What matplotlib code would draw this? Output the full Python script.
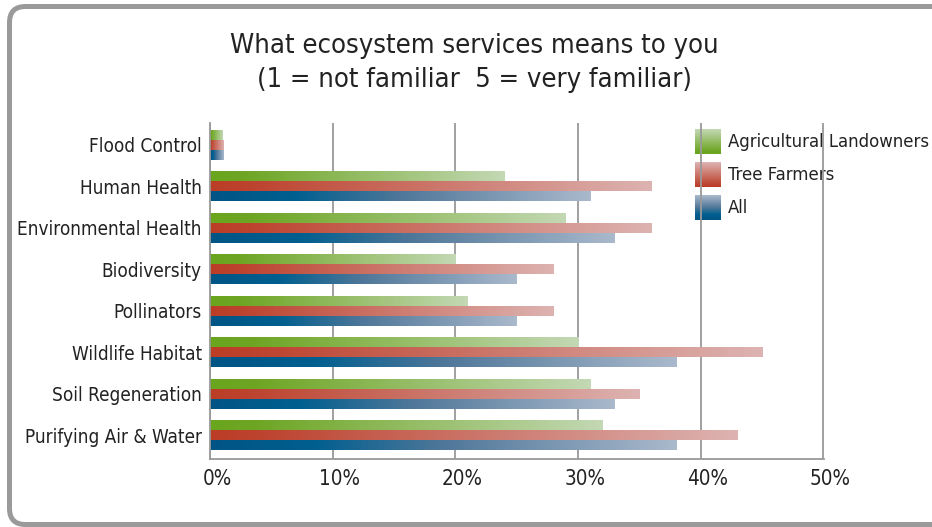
import numpy as np
import matplotlib
matplotlib.use("Agg")
import matplotlib.pyplot as plt
from matplotlib import font_manager
from matplotlib.colors import LinearSegmentedColormap
from matplotlib.patches import FancyBboxPatch
from matplotlib.transforms import ScaledTranslation

categories = ["Flood Control", "Human Health", "Environmental Health", "Biodiversity",
              "Pollinators", "Wildlife Habitat", "Soil Regeneration", "Purifying Air & Water"]
series_names = ["Agricultural Landowners", "Tree Farmers", "All"]
ag_landowners = [1.0, 24, 29, 20, 21, 30, 31, 32]
tree_farmers = [1.1, 36, 36, 28, 28, 45, 35, 43]
all_resp = [1.1, 31, 33, 25, 25, 38, 33, 38]
x_ticks = [0, 10, 20, 30, 40, 50]
x_labels = ["0%", "10%", "20%", "30%", "40%", "50%"]

names = {f.name for f in font_manager.fontManager.ttflist}
font = "Liberation Sans Narrow" if "Liberation Sans Narrow" in names else "DejaVu Sans"
plt.rcParams["font.family"] = [font, "DejaVu Sans"]
plt.rcParams["font.stretch"] = "condensed"
text_col = "#222222"
grid_col = "#999999"

# gradient colour maps (dark at the bar start, pale at its end)
cmaps = [
    LinearSegmentedColormap.from_list("g", [(0, "#6aa51e"), (0.12, "#6ea624"), (1, "#c3d8b4")]),
    LinearSegmentedColormap.from_list("r", [(0, "#bb3d26"), (0.1, "#bd4430"), (1, "#ddb3b1")]),
    LinearSegmentedColormap.from_list("b", [(0, "#005585"), (0.22, "#005f8f"), (0.5, "#4f7799"), (1, "#aab9cc")]),
]

W, H = 932, 527
fig = plt.figure(figsize=(W / 100, H / 100), dpi=100)
ax = fig.add_axes([210 / W, (H - 459) / H, 614 / W, 336 / H])

# rounded frame round the whole chart, open on the right edge
frame = FancyBboxPatch((0.095, 0.025), 9.9, 5.18, boxstyle="round,pad=0,rounding_size=0.16",
                       transform=fig.dpi_scale_trans, facecolor="white", edgecolor="#9a9a9a",
                       linewidth=3.6, clip_on=False, zorder=-10)
fig.patches.append(frame)

n = len(categories)
y = np.arange(n)[::-1]
h = 0.24
grad = np.linspace(0, 1, 256).reshape(1, -1)
for k, vals in enumerate([ag_landowners, tree_farmers, all_resp]):
    bars = ax.barh(y + (1 - k) * h, vals, height=h, color="none", linewidth=0)
    for b in bars:
        x0, y0, w, hh = b.get_x(), b.get_y(), b.get_width(), b.get_height()
        ax.imshow(grad, extent=[x0, x0 + w, y0, y0 + hh], cmap=cmaps[k],
                  aspect="auto", interpolation="bilinear", zorder=2)

ax.set_yticks(y)
ax.set_yticklabels(categories, fontsize=13.6, color=text_col)
ax.set_xticks(x_ticks)
ax.set_xticklabels(x_labels, fontsize=14.8, color=text_col)
ax.tick_params(length=0)
ax.tick_params(axis="y", pad=6)
ax.tick_params(axis="x", pad=7)
for lab in ax.get_xticklabels():
    lab.set_transform(lab.get_transform() + ScaledTranslation(7 / 100, 0, fig.dpi_scale_trans))

ax.set_axisbelow(True)
ax.grid(axis="x", color=grid_col, linewidth=1.3)
for s in ["top", "right"]:
    ax.spines[s].set_visible(False)
for s in ["left", "bottom"]:
    ax.spines[s].set_color(grid_col)
    ax.spines[s].set_linewidth(1.3)

# legend drawn inside the plot, behind the 50% grid line
vgrad = np.linspace(1, 0, 64).reshape(-1, 1)
leg_y = [0.908, 0.810, 0.711]
for k, name in enumerate(series_names):
    ax.imshow(vgrad, extent=[0.790, 0.831, leg_y[k], leg_y[k] + 0.074], transform=ax.transAxes,
              cmap=cmaps[k], aspect="auto", interpolation="bilinear", clip_on=False, zorder=0.3)
    ax.text(0.844, leg_y[k] + 0.035, name, transform=ax.transAxes, fontsize=13.2,
            color=text_col, va="center", ha="left", clip_on=False, zorder=0.3)

ax.set_xlim(0, 50.05)
ax.set_ylim(-0.57, n - 1 + 0.53)

fig.text(474 / W, 1 - 46 / H, "What ecosystem services means to you", fontsize=19.6,
         color=text_col, ha="center", va="center")
fig.text(474 / W, 1 - 80 / H, "(1 = not familiar  5 = very familiar)", fontsize=19.6,
         color=text_col, ha="center", va="center")

fig.savefig("out.png", dpi=100)
